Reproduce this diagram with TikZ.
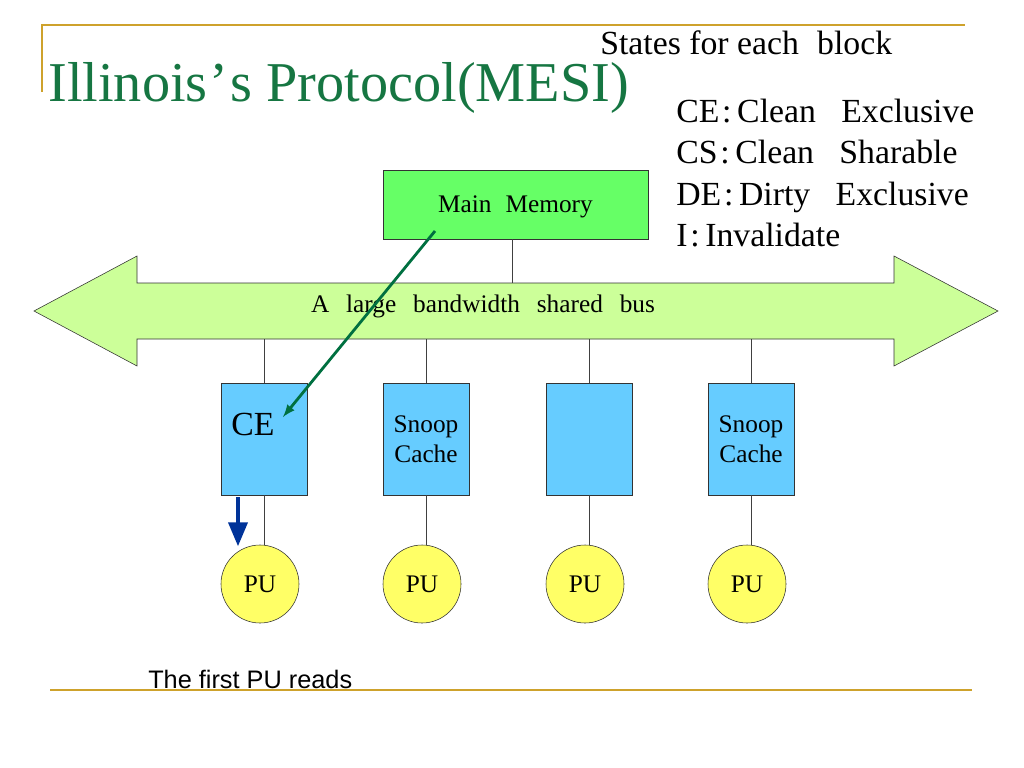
\documentclass[tikz,border=0pt]{standalone}
\usepackage{fontspec}
\setmainfont{Liberation Serif}
\newfontfamily\capfont{Liberation Sans}
\usepackage{tikz}
\usetikzlibrary{calc,positioning,arrows}

\definecolor{slidegold}{RGB}{206,162,44}
\definecolor{ttlgreen}{RGB}{22,118,66}
\definecolor{memgreen}{RGB}{102,255,102}
\definecolor{busgreen}{RGB}{204,255,153}
\definecolor{cacheblue}{RGB}{102,204,255}
\definecolor{puyellow}{RGB}{255,255,102}
\definecolor{rdgreen}{RGB}{0,112,64}
\definecolor{rdblue}{RGB}{0,51,153}
\def\px{0.025cm}
\newcommand{\wsp}{\hspace{12pt}}

\begin{document}
\begin{tikzpicture}[x=\px, y=-\px,
  box/.style={draw=black!80, inner sep=0pt},
  cache/.style={box, fill=cacheblue, minimum width=86*\px, minimum height=112*\px},
  pu/.style={circle, draw=black!80, fill=puyellow, inner sep=0pt, minimum size=78*\px, font=\fontsize{18}{20}\selectfont},
  wire/.style={draw=black!75, line width=.6pt},
  txt/.style={inner sep=0pt, font=\fontsize{18}{21.5}\selectfont},
  big/.style={inner sep=0pt, anchor=base west, font=\fontsize{24}{28}\selectfont}]
\useasboundingbox (0,0) rectangle (1024,768);
% slide frame
\draw[slidegold, line width=1.6pt] (42,92) -- (42,25) -- (965,25);
\draw[slidegold, line width=2pt] (50,690) -- (972,690);
\node[inner sep=0pt, anchor=base west, text=ttlgreen, font=\fontsize{40}{44}\selectfont] (title) at (48,102) {Illinois\kern1.5pt’\kern1.5pt s Protocol(MESI)};
% states
\node[big] (states) at (600,55) {States for each\hspace{13pt}block};
\foreach \n/\txt in {0/{CE\kern2pt:\kern4pt Clean\enspace\ Exclusive}, 1/{CS\kern2pt:\kern4pt Clean\enspace\ Sharable}, 2/{DE\kern2pt:\kern4pt Dirty\enspace\ Exclusive}, 3/{I\kern2pt:\kern4pt Invalidate}}{\node[big] (s\n) at (676,123+41*\n) {\txt};}
% memory and bus
\node[box, fill=memgreen, minimum width=265*\px, minimum height=69*\px, text depth=0pt, font=\fontsize{18}{20}\selectfont] (mem) at (515.5,204.5) {Main\hspace{10pt}Memory};
\draw[draw=black!80, fill=busgreen] (34,311) -- (137,256) -- (137,283) -- (894,283) -- (894,256) -- (998,311) -- (894,366) -- (894,339) -- (137,339) -- (137,366) -- cycle;
\node[txt, anchor=base] (bus) at (483,312) {A\wsp large\wsp bandwidth\wsp shared\wsp bus};
\coordinate (bustop) at (512,283);
\coordinate (busbot) at (0,339);
\draw[wire] (mem.south -| bustop) -- (bustop);
% caches and PUs
\foreach \i/\x in {1/264,2/426,3/589,4/751}{
  \node[cache] (c\i) at (\x,439) {};
  \node[pu] (p\i) at (\x-4,584) {PU};
  \draw[wire] (c\i.north) -- (c\i.north |- busbot);
  \draw[wire] (c\i.south) -- (c\i.south |- p\i.north);
}
\node[big] (ce) at (231,435) {CE};
\node[txt, align=center] (sc2) at (c2) {Snoop\\Cache};
\node[txt, align=center] (sc4) at (c4) {Snoop\\Cache};
% read
\coordinate (rd) at (435,231);
\coordinate (wr) at (283,417);
\draw[-latex, rdgreen, line width=2pt] (rd) -- (wr);
\coordinate (cb) at (238,497);
\coordinate (pt) at (238,546);
\draw[-triangle 45, rdblue, line width=3pt] (cb) -- (pt);
\node[inner sep=0pt, anchor=base west, font=\capfont\fontsize{18}{20}\selectfont] (note) at (148,688) {The first PU reads};
\end{tikzpicture}
\end{document}
